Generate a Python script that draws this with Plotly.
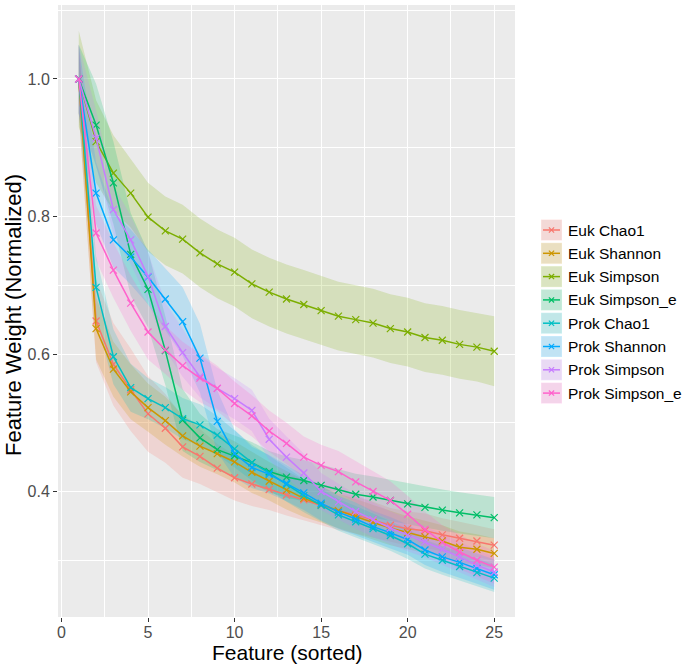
import plotly.graph_objects as go

features = list(range(1, 26))
series_names = ["Euk Chao1", "Euk Shannon", "Euk Simpson", "Euk Simpson_e",
                "Prok Chao1", "Prok Shannon", "Prok Simpson", "Prok Simpson_e"]
colors = ["#F8766D", "#CD9600", "#7CAE00", "#00BE67",
          "#00BFC4", "#00A9FF", "#C77CFF", "#FF61CC"]

euk_chao1 = [1.0, 0.648, 0.585, 0.548, 0.513, 0.492, 0.465, 0.451, 0.434, 0.420, 0.411, 0.403, 0.395,
             0.388, 0.380, 0.372, 0.366, 0.359, 0.351, 0.346, 0.343, 0.337, 0.332, 0.328, 0.322]
euk_shannon = [1.0, 0.637, 0.578, 0.545, 0.522, 0.503, 0.481, 0.466, 0.455, 0.443, 0.428, 0.415, 0.402,
               0.390, 0.381, 0.372, 0.364, 0.355, 0.347, 0.340, 0.334, 0.328, 0.319, 0.316, 0.310]
euk_simpson = [1.0, 0.909, 0.863, 0.834, 0.799, 0.779, 0.767, 0.747, 0.731, 0.719, 0.702, 0.690, 0.680,
               0.672, 0.663, 0.655, 0.650, 0.645, 0.637, 0.632, 0.624, 0.620, 0.614, 0.610, 0.604]
euk_simpson_e = [1.0, 0.933, 0.849, 0.745, 0.694, 0.605, 0.504, 0.478, 0.461, 0.452, 0.442, 0.429, 0.421,
                 0.416, 0.409, 0.402, 0.396, 0.392, 0.387, 0.382, 0.377, 0.373, 0.369, 0.366, 0.362]
prok_chao1 = [1.0, 0.697, 0.596, 0.551, 0.535, 0.522, 0.506, 0.497, 0.482, 0.462, 0.442, 0.427, 0.410,
              0.394, 0.380, 0.366, 0.356, 0.346, 0.336, 0.324, 0.309, 0.300, 0.291, 0.282, 0.274]
prok_shannon = [1.0, 0.834, 0.766, 0.741, 0.712, 0.680, 0.647, 0.594, 0.502, 0.455, 0.435, 0.425, 0.412,
                0.398, 0.383, 0.370, 0.360, 0.349, 0.340, 0.330, 0.315, 0.305, 0.297, 0.288, 0.279]
prok_simpson = [1.0, 0.914, 0.810, 0.766, 0.713, 0.640, 0.602, 0.567, 0.550, 0.535, 0.518, 0.476, 0.450,
                0.427, 0.400, 0.385, 0.371, 0.359, 0.347, 0.337, 0.327, 0.316, 0.305, 0.293, 0.283]
prok_simpson_e = [1.0, 0.776, 0.722, 0.674, 0.632, 0.606, 0.583, 0.565, 0.550, 0.528, 0.510, 0.488, 0.470,
                  0.450, 0.438, 0.429, 0.414, 0.400, 0.387, 0.367, 0.345, 0.326, 0.312, 0.300, 0.290]

# ribbon half-widths (spread around each line)
hw_euk_chao1 = [0.05, 0.06, 0.06, 0.06, 0.055, 0.05, 0.045, 0.04, 0.035, 0.033, 0.032, 0.03, 0.03,
                0.03, 0.03, 0.028, 0.027, 0.026, 0.025, 0.025, 0.025, 0.024, 0.024, 0.023, 0.023]
hw_euk_shannon = [0.05, 0.045, 0.04, 0.04, 0.035, 0.035, 0.03, 0.03, 0.03, 0.03, 0.03, 0.028, 0.028,
                  0.027, 0.026, 0.025, 0.025, 0.025, 0.025, 0.024, 0.024, 0.023, 0.023, 0.022, 0.022]
hw_euk_simpson = [0.07, 0.06, 0.055, 0.05, 0.05, 0.05, 0.05, 0.05, 0.05, 0.05, 0.05, 0.05, 0.05,
                  0.05, 0.05, 0.05, 0.05, 0.05, 0.05, 0.05, 0.05, 0.05, 0.05, 0.05, 0.051]
hw_euk_simpson_e = [0.05, 0.06, 0.06, 0.06, 0.055, 0.05, 0.045, 0.035, 0.03, 0.03, 0.03, 0.03, 0.03,
                    0.03, 0.03, 0.03, 0.03, 0.03, 0.03, 0.03, 0.03, 0.03, 0.03, 0.03, 0.03]
hw_prok_chao1 = [0.05, 0.045, 0.04, 0.035, 0.03, 0.03, 0.03, 0.03, 0.028, 0.027, 0.026, 0.025, 0.025,
                 0.024, 0.024, 0.023, 0.023, 0.022, 0.022, 0.022, 0.021, 0.021, 0.02, 0.02, 0.02]
hw_prok_shannon = [0.05, 0.045, 0.04, 0.04, 0.04, 0.045, 0.05, 0.05, 0.045, 0.035, 0.03, 0.028, 0.026,
                   0.025, 0.025, 0.024, 0.024, 0.023, 0.023, 0.022, 0.022, 0.022, 0.022, 0.022, 0.022]
hw_prok_simpson = [0.05, 0.04, 0.035, 0.035, 0.035, 0.035, 0.035, 0.03, 0.03, 0.03, 0.03, 0.03, 0.03,
                   0.028, 0.027, 0.026, 0.025, 0.025, 0.024, 0.024, 0.023, 0.023, 0.022, 0.022, 0.022]
hw_prok_simpson_e = [0.05, 0.04, 0.04, 0.04, 0.04, 0.035, 0.035, 0.035, 0.033, 0.032, 0.03, 0.03, 0.03,
                     0.03, 0.03, 0.03, 0.03, 0.03, 0.028, 0.027, 0.026, 0.025, 0.025, 0.024, 0.024]

values = [euk_chao1, euk_shannon, euk_simpson, euk_simpson_e,
          prok_chao1, prok_shannon, prok_simpson, prok_simpson_e]
halfwidths = [hw_euk_chao1, hw_euk_shannon, hw_euk_simpson, hw_euk_simpson_e,
              hw_prok_chao1, hw_prok_shannon, hw_prok_simpson, hw_prok_simpson_e]

x_title = "Feature (sorted)"
y_title = "Feature Weight (Normalized)"


def rgba(hexc, a):
    h = hexc.lstrip("#")
    r, g, b = int(h[0:2], 16), int(h[2:4], 16), int(h[4:6], 16)
    return f"rgba({r},{g},{b},{a})"


fig = go.Figure()

# ribbons
for name, col, v, hw in zip(series_names, colors, values, halfwidths):
    upper = [a + b for a, b in zip(v, hw)]
    lower = [a - b for a, b in zip(v, hw)]
    fig.add_trace(go.Scatter(x=features, y=upper, mode="lines", line=dict(width=0),
                             showlegend=False, hoverinfo="skip"))
    fig.add_trace(go.Scatter(x=features, y=lower, mode="lines", line=dict(width=0),
                             fill="tonexty", fillcolor=rgba(col, 0.2),
                             showlegend=False, hoverinfo="skip"))

# lines with x markers
for name, col, v in zip(series_names, colors, values):
    fig.add_trace(go.Scatter(x=features, y=v, mode="lines+markers", name=name,
                             line=dict(color=col, width=1.5),
                             marker=dict(symbol="x-thin", size=7, line=dict(color=col, width=1.2)),
                             showlegend=False))

# layout geometry (pixels)
W, H = 685, 664
L, R, T, B = 58, 515, 5, 617
font_family = "Liberation Sans, Arial, Helvetica, sans-serif"


def px2x(px):
    return (px - L) / (R - L)


def py2y(py):
    return (B - py) / (B - T)


# manual ggplot-like legend
shapes = []
annotations = []
leg_y0 = 230.0
leg_step = 23.3
box_l, box_r = 541, 562
box_h = 21
for i, (name, col) in enumerate(zip(series_names, colors)):
    cy = leg_y0 + i * leg_step
    shapes.append(dict(type="rect", xref="paper", yref="paper",
                       x0=px2x(box_l), x1=px2x(box_r),
                       y0=py2y(cy + box_h / 2), y1=py2y(cy - box_h / 2),
                       fillcolor="#F2F2F2", line=dict(color="white", width=1), layer="above"))
    shapes.append(dict(type="rect", xref="paper", yref="paper",
                       x0=px2x(box_l), x1=px2x(box_r),
                       y0=py2y(cy + box_h / 2), y1=py2y(cy - box_h / 2),
                       fillcolor=rgba(col, 0.2), line=dict(width=0), layer="above"))
    shapes.append(dict(type="line", xref="paper", yref="paper",
                       x0=px2x(box_l + 2), x1=px2x(box_r - 2), y0=py2y(cy), y1=py2y(cy),
                       line=dict(color=col, width=1.5), layer="above"))
    cx = (box_l + box_r) / 2
    d = 2.6
    shapes.append(dict(type="line", xref="paper", yref="paper",
                       x0=px2x(cx - d), x1=px2x(cx + d), y0=py2y(cy - d), y1=py2y(cy + d),
                       line=dict(color=col, width=1.2), layer="above"))
    shapes.append(dict(type="line", xref="paper", yref="paper",
                       x0=px2x(cx - d), x1=px2x(cx + d), y0=py2y(cy + d), y1=py2y(cy - d),
                       line=dict(color=col, width=1.2), layer="above"))
    annotations.append(dict(text=name, xref="paper", yref="paper", x=px2x(566), y=py2y(cy),
                            xanchor="left", yanchor="middle", showarrow=False,
                            font=dict(size=15.5, color="black", family=font_family)))

# axis titles
annotations.append(dict(text=x_title, xref="paper", yref="paper", x=px2x(287), y=py2y(652),
                        xanchor="center", yanchor="middle", showarrow=False,
                        font=dict(size=21, color="black", family=font_family)))
annotations.append(dict(text=y_title, xref="paper", yref="paper", x=px2x(13), y=py2y(315),
                        xanchor="center", yanchor="middle", showarrow=False, textangle=-90,
                        font=dict(size=22, color="black", family=font_family)))

fig.update_layout(
    width=W, height=H,
    margin=dict(l=L, r=W - R, t=T, b=H - B, pad=0),
    paper_bgcolor="white",
    plot_bgcolor="#EBEBEB",
    font=dict(family=font_family),
    showlegend=False,
    shapes=shapes,
    annotations=annotations,
    xaxis=dict(range=[-0.2, 26.2], tick0=0, dtick=5, showgrid=True, gridcolor="white", gridwidth=1.1,
               zeroline=False, showline=False, ticks="outside", ticklen=4, tickcolor="#333333",
               tickwidth=1, tickfont=dict(size=16, color="#4D4D4D"), automargin=False,
               ticklabelstandoff=-3,
               minor=dict(tick0=0, dtick=2.5, showgrid=True, gridcolor="white", gridwidth=0.5, ticks="")),
    yaxis=dict(range=[0.2175, 1.1076], tick0=0, dtick=0.2, tickformat=".1f", showgrid=True,
               gridcolor="white", gridwidth=1.1, zeroline=False, showline=False, ticks="outside",
               ticklen=4, tickcolor="#333333", tickwidth=1, tickfont=dict(size=16, color="#4D4D4D"),
               automargin=False,
               minor=dict(tick0=0, dtick=0.1, showgrid=True, gridcolor="white", gridwidth=0.5, ticks="")),
)

fig.write_html("out.html", config={"displayModeBar": False},
               post_script="document.body.style.margin='0';document.body.style.overflow='hidden';")
